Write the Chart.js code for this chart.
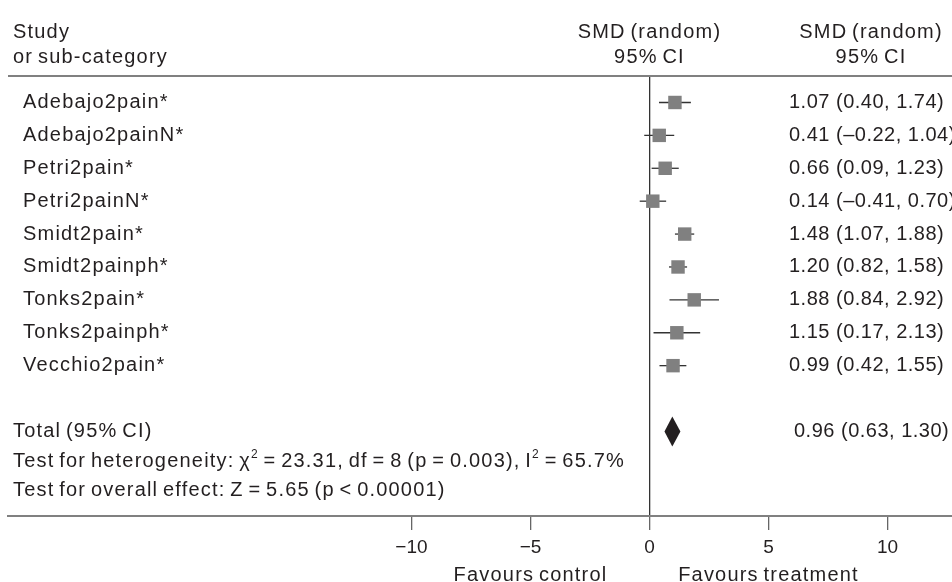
<!DOCTYPE html>
<html>
<head>
<meta charset="utf-8">
<script src="https://cdn.jsdelivr.net/npm/chart.js@4.4.0/dist/chart.umd.min.js"></script>
<style>
  html, body { margin: 0; padding: 0; background: #fff; }
  #wrap { width: 952px; height: 582px; }
</style>
</head>
<body>
<div id="wrap"><canvas id="forest"></canvas></div>
<script>
// study rows, top to bottom
const studies = ["Adebajo2pain*", "Adebajo2painN*", "Petri2pain*", "Petri2painN*", "Smidt2pain*",
  "Smidt2painph*", "Tonks2pain*", "Tonks2painph*", "Vecchio2pain*"];
const smd = [1.07, 0.41, 0.66, 0.14, 1.48, 1.20, 1.88, 1.15, 0.99];
const ciLow = [0.40, -0.22, 0.09, -0.41, 1.07, 0.82, 0.84, 0.17, 0.42];
const ciHigh = [1.74, 1.04, 1.23, 0.70, 1.88, 1.58, 2.92, 2.13, 1.55];
// pooled estimate: [smd, low, high]
const total = [0.96, 0.63, 1.30];
const totalRow = 10;
const xTicks = [-10, -5, 0, 5, 10];

const INK = "#231f20";
const FONT = '"Liberation Sans", Arial, sans-serif';

function fmt(v) {
  return (v < 0 ? "\u2013" : "") + Math.abs(v).toFixed(2);
}

function wordStyle(ctx) {
  ctx.font = "20px " + FONT;
  ctx.letterSpacing = "1.2px";
  ctx.wordSpacing = "-2px";
}

function numStyle(ctx) {
  ctx.font = "20px " + FONT;
  ctx.letterSpacing = "0.5px";
  ctx.wordSpacing = "0px";
}

function drawRuns(ctx, runs, x, y) {
  runs.forEach(r => {
    ctx.font = (r.sup ? "12px " : "20px ") + FONT;
    ctx.fillText(r.text, x, r.sup ? y - 7 : y);
    x += ctx.measureText(r.text).width;
  });
}

const whiskers = {
  id: "whiskers",
  beforeDatasetsDraw(chart) {
    const { ctx, scales: { x, y } } = chart;
    ctx.save();
    ctx.strokeStyle = "#333";
    ctx.lineWidth = 1.3;
    smd.forEach((v, i) => {
      const py = y.getPixelForValue(i);
      ctx.beginPath();
      ctx.moveTo(x.getPixelForValue(ciLow[i]), py);
      ctx.lineTo(x.getPixelForValue(ciHigh[i]), py);
      ctx.stroke();
    });
    // pooled diamond
    const py = y.getPixelForValue(totalRow);
    ctx.fillStyle = INK;
    ctx.beginPath();
    ctx.moveTo(x.getPixelForValue(total[1]), py);
    ctx.lineTo(x.getPixelForValue(total[0]), py - 15);
    ctx.lineTo(x.getPixelForValue(total[2]), py);
    ctx.lineTo(x.getPixelForValue(total[0]), py + 15);
    ctx.closePath();
    ctx.fill();
    ctx.restore();
  }
};

const labels = {
  id: "labels",
  afterDraw(chart) {
    const { ctx, scales: { x, y }, chartArea } = chart;
    ctx.save();
    ctx.fillStyle = INK;
    ctx.textBaseline = "middle";
    wordStyle(ctx);

    // header
    ctx.textAlign = "left";
    ctx.fillText("Study", 13, 32);
    ctx.fillText("or sub-category", 13, 57);
    ctx.textAlign = "center";
    const x0 = x.getPixelForValue(0);
    ctx.fillText("SMD (random)", x0, 32);
    ctx.fillText("95% CI", x0, 57);
    ctx.fillText("SMD (random)", 871, 32);
    ctx.fillText("95% CI", 871, 57);

    // top rule
    ctx.strokeStyle = "#808080";
    ctx.lineWidth = 2;
    ctx.beginPath();
    ctx.moveTo(8, chartArea.top);
    ctx.lineTo(chart.width, chartArea.top);
    ctx.stroke();

    // study names and values
    ctx.textAlign = "left";
    studies.forEach((s, i) => {
      const py = y.getPixelForValue(i);
      wordStyle(ctx);
      ctx.fillText(s, 23, py);
      numStyle(ctx);
      ctx.fillText(`${fmt(smd[i])} (${fmt(ciLow[i])}, ${fmt(ciHigh[i])})`, 789, py);
    });

    const ty = y.getPixelForValue(totalRow);
    wordStyle(ctx);
    ctx.fillText("Total (95% CI)", 13, ty);
    numStyle(ctx);
    ctx.fillText(`${fmt(total[0])} (${fmt(total[1])}, ${fmt(total[2])})`, 794, ty);

    wordStyle(ctx);
    drawRuns(ctx, [
      { text: "Test for heterogeneity: " },
      { text: "\u03c7" },
      { text: "2", sup: true },
      { text: " = 23.31, df = 8 (p = 0.003), I" },
      { text: "2", sup: true },
      { text: " = 65.7%" }
    ], 13, ty + 30);
    drawRuns(ctx, [{ text: "Test for overall effect: Z = 5.65 (p < 0.00001)" }], 13, ty + 59);

    // favours labels under the axis
    wordStyle(ctx);
    ctx.textAlign = "center";
    ctx.fillText("Favours control", x.getPixelForValue(-5), 575);
    ctx.fillText("Favours treatment", x.getPixelForValue(5), 575);
    ctx.restore();
  }
};

new Chart(document.getElementById("forest"), {
  type: "scatter",
  data: {
    datasets: [{
      data: smd.map((v, i) => ({ x: v, y: i })),
      pointStyle: "rect",
      pointRadius: 9.5,
      backgroundColor: "#808080",
      borderWidth: 0
    }]
  },
  options: {
    responsive: true,
    maintainAspectRatio: false,
    animation: false,
    events: [],
    layout: { autoPadding: false, padding: { left: 8, right: 0, top: 76, bottom: 0 } },
    plugins: { legend: { display: false }, tooltip: { enabled: false } },
    scales: {
      x: {
        type: "linear",
        min: -26.95,
        max: 12.71,
        afterBuildTicks: s => { s.ticks = xTicks.map(v => ({ value: v })); },
        afterFit: s => {
          s.height = 66;
          s.paddingLeft = 0;
          s.paddingRight = 0;
        },
        border: { display: true, color: "#808080", width: 2 },
        grid: {
          drawOnChartArea: true,
          color: c => (c.tick && c.tick.value === 0 ? "#333" : "rgba(0,0,0,0)"),
          lineWidth: 1.3,
          tickColor: "#666",
          tickLength: 14,
          tickWidth: 1.3
        },
        ticks: {
          padding: 6,
          color: INK,
          font: { size: 19, family: FONT },
          maxRotation: 0,
          autoSkip: false,
          callback: v => (v < 0 ? "\u2212" + Math.abs(v) : String(v))
        }
      },
      y: {
        type: "linear",
        display: false,
        reverse: true,
        min: -0.805,
        max: 12.57
      }
    }
  },
  plugins: [whiskers, labels]
});
</script>
</body>
</html>
